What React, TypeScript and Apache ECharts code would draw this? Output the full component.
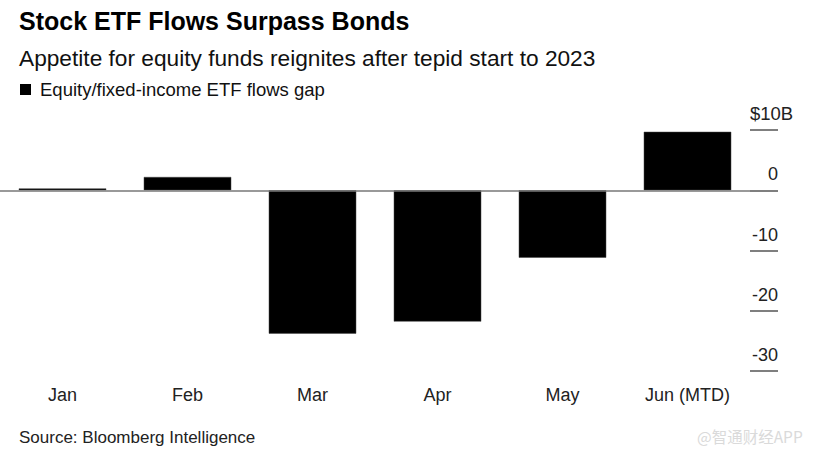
import React, { useEffect, useRef } from "react";
import * as echarts from "echarts";

const categories = ["Jan", "Feb", "Mar", "Apr", "May", "Jun (MTD)"];
const flowGap = [0.3, 2.2, -23.8, -21.8, -11.2, 9.7];
const yTickLabels: Record<string, string> = { "10": "$10B", "0": "0", "-10": "-10", "-20": "-20", "-30": "-30" };

const FONT = "'Liberation Sans', Arial, Helvetica, sans-serif";

export default function App() {
  const ref = useRef<HTMLDivElement>(null);
  useEffect(() => {
    const chart = echarts.init(ref.current!, null, { renderer: "svg" });
    chart.setOption({
      animation: false,
      backgroundColor: "#ffffff",
      textStyle: { fontFamily: FONT },
      grid: { left: 0, right: 65, top: 130, bottom: 83, containLabel: false },
      xAxis: {
        type: "category",
        data: categories,
        position: "bottom",
        axisLine: { show: false, onZero: false },
        axisTick: { show: false },
        axisLabel: { color: "#222", fontSize: 18, margin: 15, fontFamily: FONT },
      },
      yAxis: {
        type: "value",
        position: "right",
        min: -30,
        max: 10,
        interval: 10,
        splitLine: { show: false },
        axisLine: { show: false },
        axisTick: { show: true, length: 28, lineStyle: { color: "#555", width: 1.5 } },
        axisLabel: {
          color: "#222",
          fontSize: 18,
          fontFamily: FONT,
          align: "right",
          verticalAlign: "bottom",
          margin: 28,
          padding: [0, 0, 7, 0],
          formatter: (v: number) => {
            const s = yTickLabels[String(v)] ?? String(v);
            return v === 10 ? `{u|${s}}` : s;
          },
          rich: {
            u: { width: 28, align: "left", fontSize: 18.5, color: "#222", fontFamily: FONT, overflow: "none" },
          },
        },
      },
      series: [
        {
          type: "bar",
          data: flowGap,
          barCategoryGap: "30%",
          itemStyle: { color: "#000000", borderColor: "#444", borderWidth: 0.5 },
          markLine: {
            silent: true,
            symbol: "none",
            label: { show: false },
            lineStyle: { color: "#777", width: 1.5, type: "solid" },
            data: [{ yAxis: 0 }],
          },
        },
      ],
      graphic: [
        {
          type: "text",
          left: 19,
          top: 8,
          style: { text: "Stock ETF Flows Surpass Bonds", font: `bold 25px ${FONT}`, fill: "#000" },
        },
        {
          type: "text",
          left: 19,
          top: 46,
          style: { text: "Appetite for equity funds reignites after tepid start to 2023", font: `22.7px ${FONT}`, fill: "#111" },
        },
        {
          type: "rect",
          left: 20,
          top: 84,
          shape: { width: 11, height: 11 },
          style: { fill: "#000" },
        },
        {
          type: "text",
          left: 40,
          top: 80,
          style: { text: "Equity/fixed-income ETF flows gap", font: `18.5px ${FONT}`, fill: "#111" },
        },
        {
          type: "text",
          left: 19,
          top: 429,
          style: { text: "Source: Bloomberg Intelligence", font: `17px ${FONT}`, fill: "#222" },
        },
        {
          type: "text",
          left: 697,
          top: 428,
          style: { text: "@智通财经APP", font: `15.5px 'Noto Sans CJK SC', ${FONT}`, fill: "#dadada" },
        },
      ],
    });
    return () => chart.dispose();
  }, []);
  return <div ref={ref} style={{ width: 815, height: 454, position: "absolute", left: 0, top: 0 }} />;
}
